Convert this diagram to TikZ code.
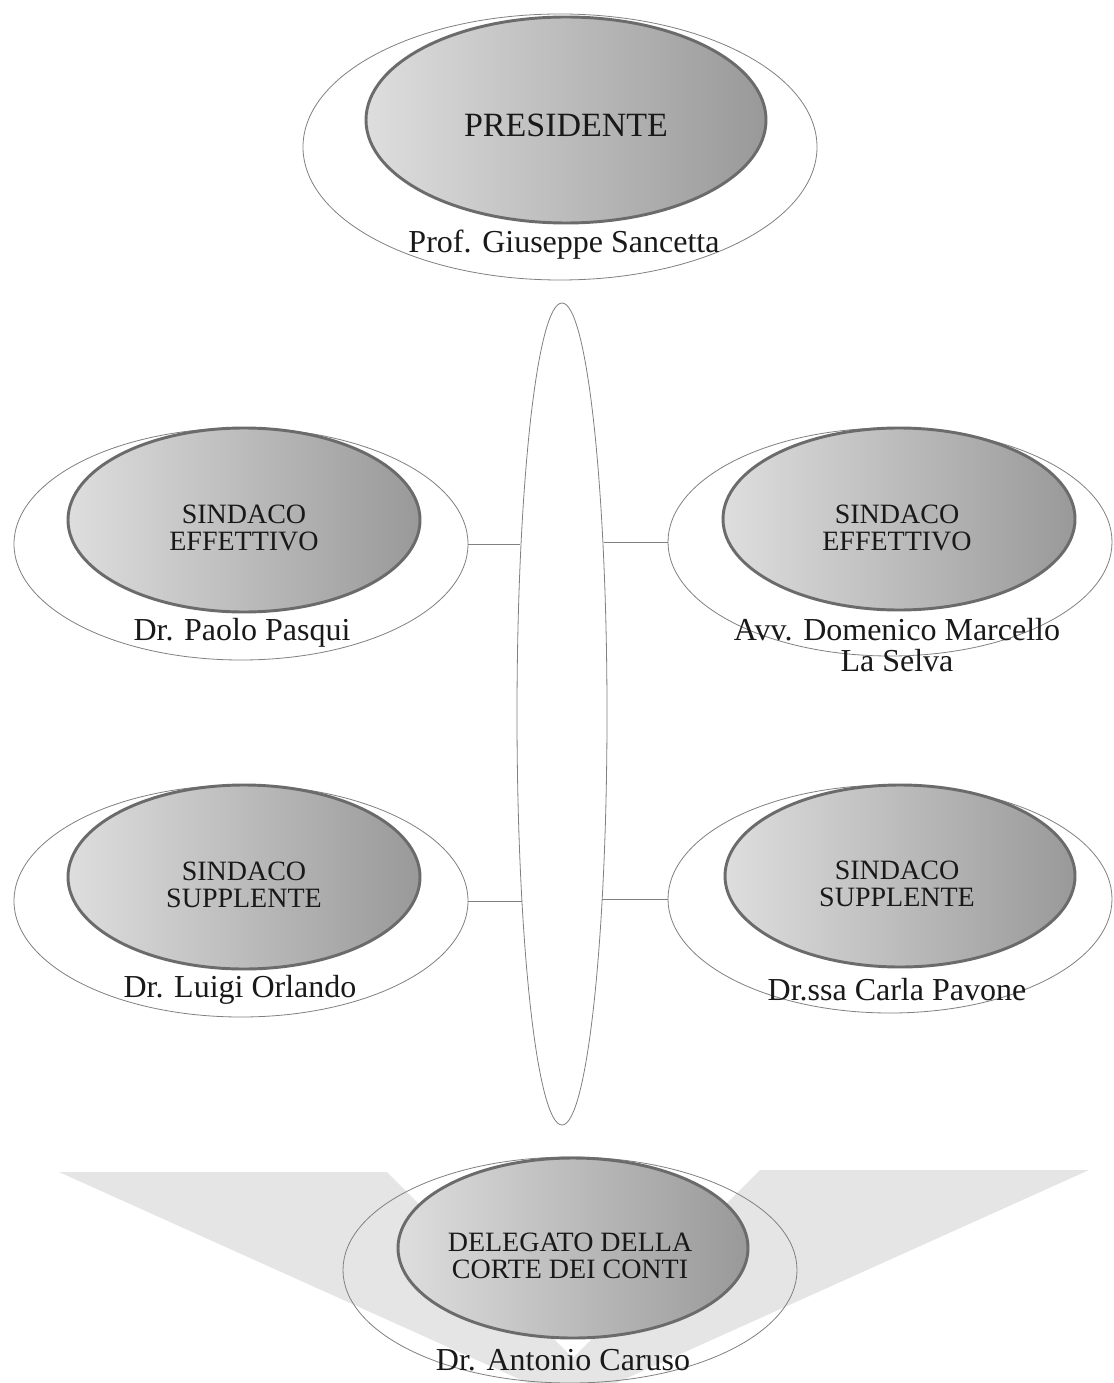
\documentclass[tikz,border=0pt]{standalone}
\usepackage{fontspec}
\setmainfont{Liberation Serif}
\usetikzlibrary{shapes.geometric,calc}
\def\px{0.75pt}
\begin{document}
\begin{tikzpicture}[x=0.75pt,y=-0.75pt,
 outer/.style={ellipse,draw=black!50,line width=0.6pt,inner sep=0pt},
 inner/.style={ellipse,draw=black!58,line width=2.2pt,left color=black!13,right color=black!40,inner sep=0pt},
 lbl/.style={align=center,font=\fontsize{21}{20}\selectfont,text=black!90,inner sep=0pt},
 nm/.style={align=center,font=\fontsize{24}{23}\selectfont,text=black!90,inner sep=0pt},
 conn/.style={draw=black!50,line width=0.6pt}]
\useasboundingbox (0,0) rectangle (1113,1383);
\fill[white] (0,0) rectangle (1113,1383);
% background wings
\fill[black!10] (59,1172) -- (387,1172) -- (573,1358) -- (760,1170) -- (1089,1170) -- (616,1383) -- (528,1383) -- cycle;
% central vertical ellipse
\node[outer,minimum width=90*\px,minimum height=822*\px] (vert) at (562,714) {};
% outer ellipses
\node[outer,minimum width=514*\px,minimum height=266*\px] (pO) at (560,147) {};
\node[outer,minimum width=454*\px,minimum height=232*\px] (leO) at (241,544) {};
\node[outer,minimum width=444*\px,minimum height=228*\px] (reO) at (890,542) {};
\node[outer,minimum width=454*\px,minimum height=232*\px] (lsO) at (241,901) {};
\node[outer,minimum width=444*\px,minimum height=228*\px] (rsO) at (890,899) {};
\node[outer,minimum width=454*\px,minimum height=226*\px] (dO) at (570,1270) {};
% connectors
\draw[conn] (leO.east) -- (leO.east -| vert.104);
\draw[conn] (reO.west -| vert.76) -- (reO.west);
\draw[conn] (lsO.east) -- (lsO.east -| vert.258);
\draw[conn] (rsO.west -| vert.282) -- (rsO.west);
% inner ellipses
\node[inner,minimum width=400*\px,minimum height=206*\px] (pI) at (566,120) {};
\node[inner,minimum width=352*\px,minimum height=184*\px] (leI) at (244,520) {};
\node[inner,minimum width=352*\px,minimum height=182*\px] (reI) at (899,519) {};
\node[inner,minimum width=352*\px,minimum height=184*\px] (lsI) at (244,877) {};
\node[inner,minimum width=350*\px,minimum height=182*\px] (rsI) at (900,876) {};
\node[inner,minimum width=350*\px,minimum height=180*\px] (dI) at (573,1248) {};
% labels
\node[lbl,font=\fontsize{25.5}{26}\selectfont] (pL) at (566,125) {PRESIDENTE};
\node[lbl] (leL) at (244,528) {SINDACO\\EFFETTIVO};
\node[lbl] (reL) at (897,528) {SINDACO\\EFFETTIVO};
\node[lbl] (lsL) at (244,885) {SINDACO\\SUPPLENTE};
\node[lbl] (rsL) at (897,884) {SINDACO\\SUPPLENTE};
\node[lbl] (dL) at (570,1256) {DELEGATO DELLA\\CORTE DEI CONTI};
% names
\node[nm] (pN) at (564,245) {Prof. Giuseppe Sancetta};
\node[nm] (leN) at (242,633) {Dr. Paolo Pasqui};
\node[nm] (reN) at (897,645) {Avv. Domenico Marcello\\La Selva};
\node[nm] (lsN) at (240,990) {Dr. Luigi Orlando};
\node[nm] (rsN) at (897,990) {Dr.ssa Carla Pavone};
\node[nm] (dN) at (563,1360) {Dr. Antonio Caruso};
\end{tikzpicture}
\end{document}
